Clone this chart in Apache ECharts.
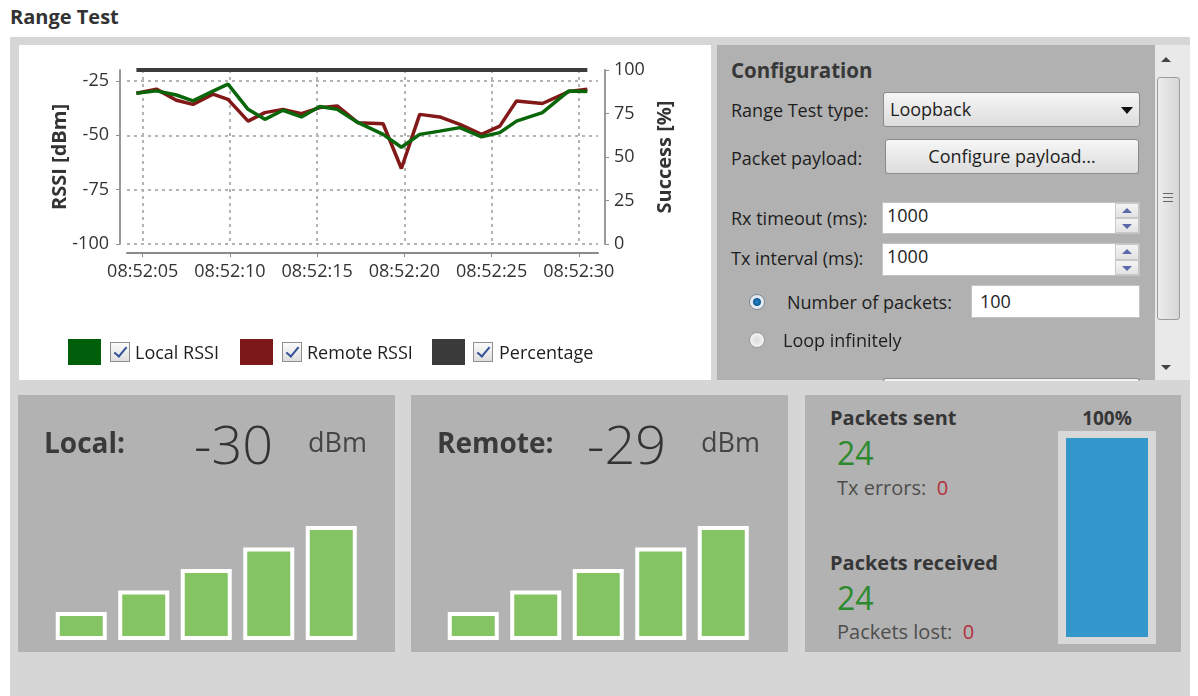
<!DOCTYPE html>
<html>
<head>
<meta charset="utf-8">
<script src="https://cdn.jsdelivr.net/npm/echarts@6/dist/echarts.min.js"></script>
<style>
  body { margin:0; width:1198px; height:696px; background:#fff; position:relative; overflow:hidden;
         font-family:"Open Sans","Noto Sans",sans-serif; color:#1e1e1e; }
  .a { position:absolute; white-space:nowrap; }
  .lbl { font-size:18px; line-height:24px; height:24px; }
  .panel { position:absolute; background:#b2b2b2; }
  .box { position:absolute; box-sizing:border-box; border:1px solid #8a8a8a; border-radius:3px;
         background:linear-gradient(#f6f6f6,#dcdcdc); font-size:18px; }
  .field { position:absolute; box-sizing:border-box; background:#fff; border:1px solid #c4c4c4;
           font-size:18px; line-height:24px; padding-left:4px; }
  .spin { position:absolute; right:0; width:24px; height:50%; box-sizing:border-box;
          border:1px solid #c8c8c8; background:linear-gradient(#f4f4f4,#e2e2e2); }
  .up::after, .dn::after { content:""; position:absolute; left:6px; width:0; height:0;
          border-left:5px solid transparent; border-right:5px solid transparent; }
  .up::after { top:4px; border-bottom:5px solid #5a6aa8; }
  .dn::after { top:5px; border-top:5px solid #5a6aa8; }
  .radio { position:absolute; width:16px; height:16px; border-radius:50%; box-sizing:border-box; }
  .swatch { position:absolute; width:33px; height:26px; top:339px; }
  .chk { position:absolute; top:342px; width:20px; height:20px; box-sizing:border-box;
         border:1px solid #8f8f8f; background:linear-gradient(#fbfbfb,#dedede); }
  .chk::after { content:""; position:absolute; left:6px; top:1px; width:5px; height:11px;
         border-right:2px solid #34509a; border-bottom:2px solid #34509a; transform:rotate(40deg); }
  .big { font-size:28px; font-weight:700; color:#3a3a3a; line-height:36px; top:424px; }
  .num { font-size:54px; font-weight:300; color:#333; line-height:60px; top:413px; }
  .unit { font-size:27px; color:#454545; line-height:36px; top:424px; }
  .hd { font-size:20px; font-weight:700; color:#363636; line-height:26px; }
  .cnt { font-size:32px; color:#2e8a2e; line-height:40px; }
  .sub { font-size:20px; color:#4e4e4e; line-height:24px; }
  .err { color:#b3303c; }
</style>
</head>
<body>
<div class="a" style="left:10px;top:4px;font-size:20px;font-weight:700;color:#333;line-height:26px;">Range Test</div>
<div class="a" style="left:10px;top:37px;width:1180px;height:659px;background:#d6d6d6;"></div>

<!-- chart panel -->
<div id="rssiChart" class="a" style="left:19px;top:45px;width:692px;height:335px;background:#fff;"></div>
<div class="swatch" style="left:68px;background:#005f0a;"></div>
<div class="chk" style="left:110px;"></div>
<div class="a lbl" style="left:135px;top:340px;">Local RSSI</div>
<div class="swatch" style="left:240px;background:#7c1818;"></div>
<div class="chk" style="left:282px;"></div>
<div class="a lbl" style="left:307px;top:340px;">Remote RSSI</div>
<div class="swatch" style="left:432px;background:#3a3a3a;"></div>
<div class="chk" style="left:473px;"></div>
<div class="a lbl" style="left:499px;top:340px;">Percentage</div>

<!-- configuration panel -->
<div class="panel" style="left:717px;top:45px;width:438px;height:335px;background:#b1b1b1;overflow:hidden;"></div>
<div class="a" style="left:731px;top:57px;font-size:20.5px;font-weight:700;color:#383838;line-height:26px;">Configuration</div>
<div class="a lbl" style="left:731px;top:98px;">Range Test type:</div>
<div class="box" style="left:883px;top:92px;width:257px;height:35px;">
  <span class="a" style="left:6px;top:4px;line-height:24px;">Loopback</span>
  <span class="a" style="right:6px;top:14px;width:0;height:0;border-left:6px solid transparent;border-right:6px solid transparent;border-top:7px solid #111;"></span>
</div>
<div class="a lbl" style="left:731px;top:146px;">Packet payload:</div>
<div class="box" style="left:885px;top:139px;width:254px;height:35px;text-align:center;line-height:32px;">Configure payload...</div>
<div class="a lbl" style="left:731px;top:206px;">Rx timeout (ms):</div>
<div class="field" style="left:882px;top:202px;width:258px;height:32px;">1000
  <div class="spin up" style="top:0;"></div><div class="spin dn" style="top:50%;"></div></div>
<div class="a lbl" style="left:731px;top:246px;">Tx interval (ms):</div>
<div class="field" style="left:882px;top:243px;width:258px;height:33px;">1000
  <div class="spin up" style="top:0;"></div><div class="spin dn" style="top:50%;"></div></div>
<div class="radio" style="left:749px;top:294px;border:1px solid #7d8a96;background:radial-gradient(circle,#2a8ad0 0,#0d5c96 3.5px,#dfe8f0 4.5px,#f4f4f4 8px);"></div>
<div class="a lbl" style="left:787px;top:290px;">Number of packets:</div>
<div class="field" style="left:971px;top:285px;width:169px;height:33px;padding-left:8px;line-height:30px;">100</div>
<div class="radio" style="left:749px;top:332px;border:1px solid #9a9a9a;background:radial-gradient(circle,#dcdcdc 0,#f6f6f6 8px);"></div>
<div class="a lbl" style="left:783px;top:328px;">Loop infinitely</div>
<div class="a" style="left:883px;top:378px;width:255px;height:2px;border:1px solid #8a8a8a;border-bottom:none;border-radius:3px 3px 0 0;background:#f2f2f2;"></div>

<!-- scrollbar -->
<div class="a" style="left:1155px;top:45px;width:35px;height:335px;background:#e9e9e9;"></div>
<div class="a" style="left:1161px;top:57px;width:0;height:0;border-left:5px solid transparent;border-right:5px solid transparent;border-bottom:5px solid #444;"></div>
<div class="a" style="left:1157px;top:77px;width:23px;height:243px;box-sizing:border-box;border:1px solid #9c9c9c;border-radius:3px;background:linear-gradient(90deg,#ececec,#d6d6d6);"></div>
<div class="a" style="left:1163px;top:193px;width:10px;height:7px;border-top:1px solid #666;border-bottom:1px solid #666;"></div>
<div class="a" style="left:1163px;top:197px;width:10px;height:0;border-top:1px solid #666;"></div>
<div class="a" style="left:1161px;top:365px;width:0;height:0;border-left:5px solid transparent;border-right:5px solid transparent;border-top:5px solid #444;"></div>

<!-- bottom panels -->
<div class="panel" style="left:18px;top:395px;width:377px;height:257px;"></div>
<div id="localBars" class="a" style="left:18px;top:395px;width:377px;height:257px;"></div>
<div class="a big" style="left:44px;">Local:</div>
<div class="a num" style="left:194px;">-30</div>
<div class="a unit" style="left:308px;">dBm</div>

<div class="panel" style="left:411px;top:395px;width:377px;height:257px;"></div>
<div id="remoteBars" class="a" style="left:411px;top:395px;width:377px;height:257px;"></div>
<div class="a big" style="left:437px;">Remote:</div>
<div class="a num" style="left:587px;">-29</div>
<div class="a unit" style="left:701px;">dBm</div>

<div class="panel" style="left:805px;top:395px;width:376px;height:257px;"></div>
<div class="a hd" style="left:830px;top:405px;">Packets sent</div>
<div class="a cnt" style="left:837px;top:433px;">24</div>
<div class="a sub" style="left:837px;top:476px;">Tx errors:&nbsp; <span class="err">0</span></div>
<div class="a hd" style="left:830px;top:550px;">Packets received</div>
<div class="a cnt" style="left:837px;top:578px;">24</div>
<div class="a sub" style="left:837px;top:620px;">Packets lost:&nbsp; <span class="err">0</span></div>
<div class="a hd" style="left:1057px;top:405px;width:100px;text-align:center;font-size:19px;">100%</div>
<div id="successBar" class="a" style="left:1058px;top:431px;width:98px;height:213px;"></div>

<script>
// seconds after 08:52:00 of each packet
const packetTimes = [4.64, 5.79, 6.93, 7.88, 9.03, 9.89, 11.04, 12.0, 13.04, 14.1, 15.15, 16.15,
                     17.33, 18.78, 19.83, 20.88, 22.03, 23.18, 24.42, 25.47, 26.43, 27.91, 29.43, 30.49];
const localRssi  = [-30.7, -29.6, -31.5, -34.2, -29.7, -26.5, -38.1, -42.7, -38.5, -41.6, -36.8, -38.1,
                    -44.1, -49.6, -55.5, -49.6, -48.1, -46.5, -50.7, -48.8, -43.5, -39.6, -29.6, -29.9];
const remoteRssi = [-30.7, -28.8, -33.9, -35.8, -31.1, -33.5, -43.5, -39.6, -38.1, -40.1, -37.3, -36.5,
                    -44.2, -44.7, -65.3, -40.4, -41.6, -45.0, -49.6, -45.8, -34.2, -35.4, -29.9, -28.8];
const successPct = [100, 100, 100, 100, 100, 100, 100, 100, 100, 100, 100, 100,
                    100, 100, 100, 100, 100, 100, 100, 100, 100, 100, 100, 100];
const timeTicks = [5, 10, 15, 20, 25, 30];
const rssiTicks = [-100, -75, -50, -25];
const signalLevels = [13, 23, 33, 43, 53];
const successRate = [100];

const font = '"Open Sans","Noto Sans",sans-serif';
const pair = (xs, ys) => xs.map((x, i) => [x, ys[i]]);
const hhmmss = v => '08:52:' + String(Math.round(v)).padStart(2, '0');

const chart = echarts.init(document.getElementById('rssiChart'));
chart.setOption({
  animation: false,
  textStyle: { fontFamily: font },
  grid: { left: 108, top: 25, width: 471, height: 174, outerBoundsMode: 'none' },
  xAxis: {
    type: 'value', min: 4.1, max: 31.1, offset: 9,
    axisLine: { onZero: false, lineStyle: { color: '#8a8a8a', width: 2 } },
    axisTick: { customValues: timeTicks, length: 4, lineStyle: { color: '#8a8a8a' } },
    axisLabel: { customValues: timeTicks, margin: 10, fontSize: 18, color: '#333', formatter: hhmmss },
    splitLine: { show: true, lineStyle: { type: [3, 4], color: '#b4b4b4', width: 2 } }
  },
  yAxis: [{
    type: 'value', min: -100, max: -20, offset: 7,
    name: 'RSSI [dBm]', nameLocation: 'middle', nameRotate: 90, nameGap: 50, nameMoveOverlap: false,
    nameTextStyle: { fontSize: 20, fontWeight: 'bold', color: '#333' },
    axisLine: { show: true, lineStyle: { color: '#9a9a9a', width: 2 } },
    axisTick: { show: true, customValues: rssiTicks, length: 4, lineStyle: { color: '#8e8e8e' } },
    axisLabel: { customValues: rssiTicks, margin: 11, fontSize: 18, color: '#333' },
    splitLine: { show: true, lineStyle: { type: [3, 4], color: '#b4b4b4', width: 2 } }
  }, {
    type: 'value', min: 0, max: 100, interval: 25, position: 'right', offset: 7,
    name: 'Success [%]', nameLocation: 'middle', nameRotate: 90, nameGap: 50,
    nameTextStyle: { fontSize: 20, fontWeight: 'bold', color: '#333' },
    axisLine: { show: true, lineStyle: { color: '#9a9a9a', width: 2 } },
    axisTick: { show: true, length: 4, lineStyle: { color: '#8e8e8e' } },
    axisLabel: { margin: 9, fontSize: 18, color: '#333' },
    splitLine: { show: false }
  }],
  series: [
    { name: 'Percentage', type: 'line', yAxisIndex: 1, data: pair(packetTimes, successPct),
      showSymbol: false, lineStyle: { color: '#3c3c3c', width: 4 } },
    { name: 'Remote RSSI', type: 'line', data: pair(packetTimes, remoteRssi),
      showSymbol: false, lineStyle: { color: '#821818', width: 3.5 } },
    { name: 'Local RSSI', type: 'line', data: pair(packetTimes, localRssi),
      showSymbol: false, lineStyle: { color: '#0a660a', width: 3.5 } }
  ]
});

function signalBars(id, left) {
  const c = echarts.init(document.getElementById(id));
  c.setOption({
    animation: false,
    grid: { left: left, width: 312.5, top: 116, height: 129, outerBoundsMode: 'none' },
    xAxis: { type: 'category', data: ['1', '2', '3', '4', '5'], show: false },
    yAxis: { type: 'value', min: 0, max: 60, show: false },
    series: [{ type: 'bar', data: signalLevels, barWidth: 51,
               itemStyle: { color: '#84c462', borderColor: '#ffffff', borderWidth: 4 } }]
  });
}
signalBars('localBars', 32);
signalBars('remoteBars', 31);

const rate = echarts.init(document.getElementById('successBar'));
rate.setOption({
  animation: false,
  backgroundColor: '#d8d8d8',
  grid: { left: 8, right: 8, top: 7, bottom: 7, outerBoundsMode: 'none' },
  xAxis: { type: 'category', data: ['sent'], show: false },
  yAxis: { type: 'value', min: 0, max: 100, show: false },
  series: [{ type: 'bar', data: successRate, barWidth: '100%', itemStyle: { color: '#3397cc' } }]
});
</script>
</body>
</html>
